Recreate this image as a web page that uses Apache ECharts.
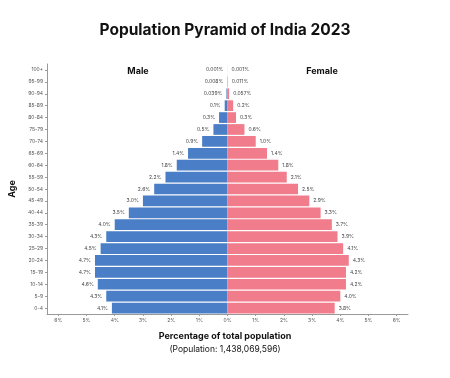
<!DOCTYPE html>
<html lang="en">
<head>
    <meta charset="UTF-8">
    <title>Population Pyramid of India 2023</title>
    <script src="https://cdn.jsdelivr.net/npm/echarts@6.0.0/dist/echarts.min.js"></script>
    <style>
        html, body {
            margin: 0;
            padding: 0;
            background: #fff;
        }
    </style>
</head>
<body>
<div id="main" style="width:450px;height:378px;"></div>
<script>
    var ageGroups = ['0-4', '5-9', '10-14', '15-19', '20-24', '25-29', '30-34', '35-39', '40-44', '45-49',
        '50-54', '55-59', '60-64', '65-69', '70-74', '75-79', '80-84', '85-89', '90-94', '95-99', '100+'];
    var maleShare = [4.1, 4.3, 4.6, 4.7, 4.7, 4.5, 4.3, 4.0, 3.5, 3.0,
        2.6, 2.2, 1.8, 1.4, 0.9, 0.5, 0.3, 0.1, 0.039, 0.008, 0.001];
    var femaleShare = [3.8, 4.0, 4.2, 4.2, 4.3, 4.1, 3.9, 3.7, 3.3, 2.9,
        2.5, 2.1, 1.8, 1.4, 1.0, 0.6, 0.3, 0.2, 0.057, 0.011, 0.001];
    var xTicks = [-6, -5, -4, -3, -2, -1, 0, 1, 2, 3, 4, 5, 6];

    var font = 'Inter, "Noto Sans", sans-serif';

    function pct(v) {
        v = Math.abs(v);
        return (v < 0.1 ? String(v) : v.toFixed(1)) + '%';
    }

    var myChart = echarts.init(document.getElementById('main'));
    var option = {
        animation: false,
        textStyle: {fontFamily: font},
        title: [
            {
                text: 'Population Pyramid of India 2023',
                left: 'center', top: 17,
                textStyle: {fontSize: 15.5, fontWeight: 'bold', color: '#111', fontFamily: font}
            },
            {
                text: 'Male', left: 133, top: 62, textAlign: 'center',
                textStyle: {fontSize: 9, fontWeight: 'bold', color: '#111', fontFamily: font}
            },
            {
                text: 'Female', left: 317, top: 62, textAlign: 'center',
                textStyle: {fontSize: 9, fontWeight: 'bold', color: '#111', fontFamily: font}
            },
            {
                text: 'Percentage of total population', left: 'center', top: 327,
                textStyle: {fontSize: 9, fontWeight: 'bold', color: '#111', fontFamily: font}
            },
            {
                text: '(Population: 1,438,069,596)', left: 'center', top: 340,
                textStyle: {fontSize: 8.5, fontWeight: 'normal', color: '#111', fontFamily: font}
            }
        ],
        grid: {left: 42, right: 42, top: 64, bottom: 64},
        xAxis: {
            type: 'value',
            min: -6.4,
            max: 6.4,
            axisLine: {show: true, onZero: false, lineStyle: {color: '#999', width: 1}},
            axisTick: {show: true, customValues: xTicks, length: 2, lineStyle: {color: '#999'}},
            axisLabel: {
                customValues: xTicks,
                fontSize: 5, color: '#555', margin: 4,
                formatter: function (v) { return Math.abs(v) + '%'; }
            },
            splitLine: {show: false}
        },
        yAxis: {
            type: 'category',
            data: ageGroups,
            name: 'Age',
            nameLocation: 'middle',
            nameRotate: 90,
            nameGap: 22,
            nameTextStyle: {fontSize: 9, fontWeight: 'bold', color: '#111'},
            axisLine: {show: true, onZero: false, lineStyle: {color: '#999'}},
            axisTick: {show: true, alignWithLabel: true, length: 2, lineStyle: {color: '#999'}},
            axisLabel: {fontSize: 5, color: '#555', margin: 4}
        },
        series: [
            {
                name: 'Male',
                type: 'bar',
                stack: 'pop',
                barCategoryGap: '10%',
                itemStyle: {color: '#4a7ec6'},
                label: {
                    show: true, position: 'left', distance: 4,
                    fontSize: 5, color: '#444',
                    formatter: function (p) { return pct(p.value); }
                },
                data: maleShare.map(function (v) { return -v; })
            },
            {
                name: 'Female',
                type: 'bar',
                stack: 'pop',
                barCategoryGap: '10%',
                itemStyle: {color: '#f17c8b'},
                label: {
                    show: true, position: 'right', distance: 4,
                    fontSize: 5, color: '#444',
                    formatter: function (p) { return pct(p.value); }
                },
                data: femaleShare
            }
        ]
    };
    myChart.setOption(option);
</script>
</body>
</html>
